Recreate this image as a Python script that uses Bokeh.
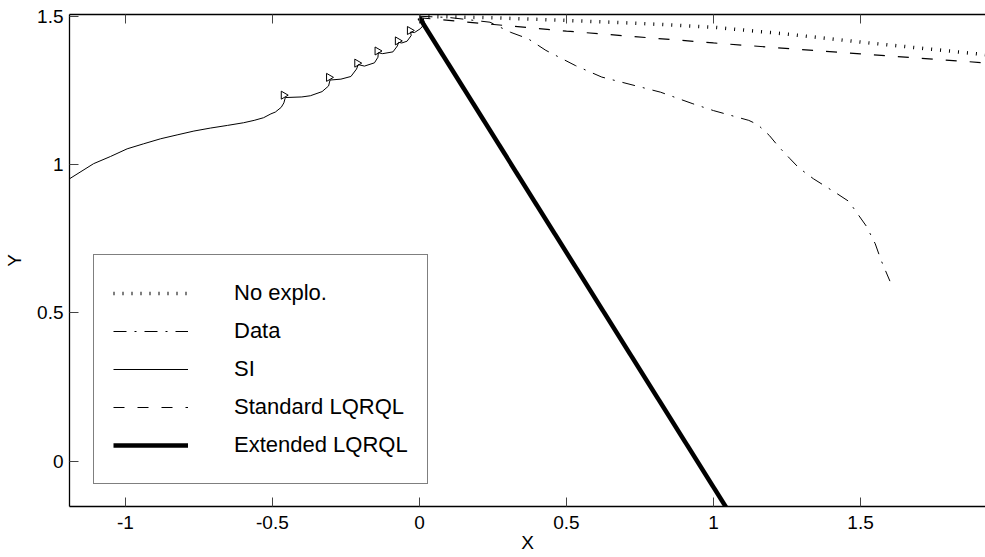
import math
from bokeh.plotting import figure
from bokeh.models import LinearAxis, FixedTicker, Legend, LegendItem, Range1d
from bokeh.embed import file_html
from bokeh.resources import INLINE

# ---- data ----
x_ticks = [-1, -0.5, 0, 0.5, 1, 1.5]
x_tick_labels = ["-1", "-0.5", "0", "0.5", "1", "1.5"]
y_ticks = [0, 0.5, 1, 1.5]
y_tick_labels = ["0", "0.5", "1", "1.5"]

noexplo_x = [0.0, 0.25, 0.5, 0.75, 1.0, 1.25, 1.5, 1.75, 1.95]
noexplo_y = [1.500, 1.495, 1.486, 1.476, 1.463, 1.440, 1.413, 1.388, 1.368]

data_x = [0.0, 0.10, 0.24, 0.31, 0.37, 0.43, 0.53, 0.62, 0.73, 0.82, 0.93, 1.00,
          1.12, 1.15, 1.19, 1.22, 1.26, 1.29, 1.34, 1.42, 1.46, 1.49, 1.52, 1.55,
          1.57, 1.60]
data_y = [1.500, 1.496, 1.480, 1.446, 1.424, 1.385, 1.334, 1.295, 1.267, 1.244,
          1.205, 1.182, 1.149, 1.135, 1.098, 1.062, 1.020, 0.989, 0.952, 0.902,
          0.876, 0.834, 0.792, 0.733, 0.677, 0.607]

si_x = [-1.190, -1.108, -1.051, -0.994, -0.938, -0.880, -0.824, -0.767, -0.711,
        -0.653, -0.598, -0.562, -0.530, -0.505, -0.490, -0.470, -0.461,
        -0.456, -0.400, -0.371, -0.331, -0.309, -0.304, -0.267, -0.233, -0.214,
        -0.208, -0.187, -0.153, -0.141, -0.140, -0.125, -0.090, -0.075, -0.071,
        -0.060, -0.042, -0.028, -0.030, -0.017, 0.003, 0.018, 0.012]
si_y = [0.952, 1.003, 1.027, 1.053, 1.070, 1.087, 1.100, 1.113, 1.123,
        1.132, 1.141, 1.149, 1.158, 1.171, 1.177, 1.193, 1.208,
        1.226, 1.228, 1.232, 1.246, 1.265, 1.285, 1.288, 1.297, 1.322,
        1.337, 1.332, 1.343, 1.362, 1.377, 1.374, 1.380, 1.400, 1.412,
        1.410, 1.416, 1.435, 1.447, 1.445, 1.458, 1.475, 1.495]
si_mark_x = [-0.462, -0.308, -0.212, -0.143, -0.074, -0.033]
si_mark_y = [1.234, 1.294, 1.342, 1.383, 1.417, 1.452]

std_x = [0.0, 0.5, 1.0, 1.5, 1.95]
std_y = [1.495, 1.450, 1.410, 1.373, 1.341]

ext_x = [0.0, 1.05]
ext_y = [1.495, -0.167]

FONT = "Liberation Sans"

p = figure(width=985, height=557, output_backend="svg", toolbar_location=None,
           x_range=Range1d(-1.190, 1.925), y_range=Range1d(-0.153, 1.506),
           min_border_left=69, min_border_right=0, min_border_top=14,
           min_border_bottom=51, x_axis_label="X", y_axis_label="Y")
p.grid.visible = False
p.outline_line_color = None
p.background_fill_color = "white"
p.border_fill_color = "white"

def style_axis(ax, ticks, labels, show_labels=True):
    ax.ticker = FixedTicker(ticks=ticks)
    ax.major_tick_in = 9
    ax.major_tick_out = 0
    ax.minor_tick_line_color = None
    ax.major_tick_line_color = "#444444"
    ax.axis_line_color = "black"
    ax.axis_line_width = 1.3
    ax.major_label_text_font = FONT
    ax.major_label_text_color = "black"
    if show_labels:
        ax.major_label_overrides = {t: l for t, l in zip(ticks, labels)}
        ax.major_label_text_font_size = "19px"
    else:
        ax.major_label_overrides = {t: "" for t in ticks}
        ax.major_label_text_font_size = "1px"
        ax.major_label_standoff = 0
    ax.axis_label_text_font = FONT
    ax.axis_label_text_font_size = "19px"
    ax.axis_label_text_font_style = "normal"
    ax.axis_label_text_color = "black"

style_axis(p.xaxis[0], x_ticks, x_tick_labels)
p.xaxis[0].major_label_standoff = 9
p.xaxis[0].axis_label_standoff = 0
style_axis(p.yaxis[0], y_ticks, y_tick_labels)
p.yaxis[0].major_label_standoff = 6
p.yaxis[0].axis_label_standoff = 9

top = LinearAxis()
style_axis(top, x_ticks, x_tick_labels, show_labels=False)
p.add_layout(top, "above")

r_noexplo = p.line(noexplo_x, noexplo_y, line_color="black", line_width=3.5,
                   line_dash="1 8", line_cap="butt")
r_data = p.line(data_x, data_y, line_color="black", line_width=1,
                line_dash="13 8 2 8")
r_si = p.line(si_x, si_y, line_color="black", line_width=1)
p.scatter(si_mark_x, si_mark_y, marker="triangle", size=8, angle=-math.pi / 2,
          fill_color=None, line_color="black", line_width=1)
r_std = p.line(std_x, std_y, line_color="black", line_width=1.2,
               line_dash="11 13")
r_ext = p.line(ext_x, ext_y, line_color="black", line_width=4.5)

legend = Legend(items=[
    LegendItem(label="No explo.", renderers=[r_noexplo]),
    LegendItem(label="Data", renderers=[r_data]),
    LegendItem(label="SI", renderers=[r_si]),
    LegendItem(label="Standard LQRQL", renderers=[r_std]),
    LegendItem(label="Extended LQRQL", renderers=[r_ext]),
], location=(24, 22))
legend.border_line_color = "black"
legend.border_line_width = 1
legend.background_fill_color = "white"
legend.background_fill_alpha = 1
legend.label_text_font = FONT
legend.label_text_font_size = "22px"
legend.label_text_color = "black"
legend.glyph_width = 75
legend.glyph_height = 38
legend.label_height = 38
legend.spacing = 0
legend.padding = 19
legend.margin = 0
legend.label_standoff = 46
p.add_layout(legend)

open("out.html", "w").write(file_html(p, INLINE))
